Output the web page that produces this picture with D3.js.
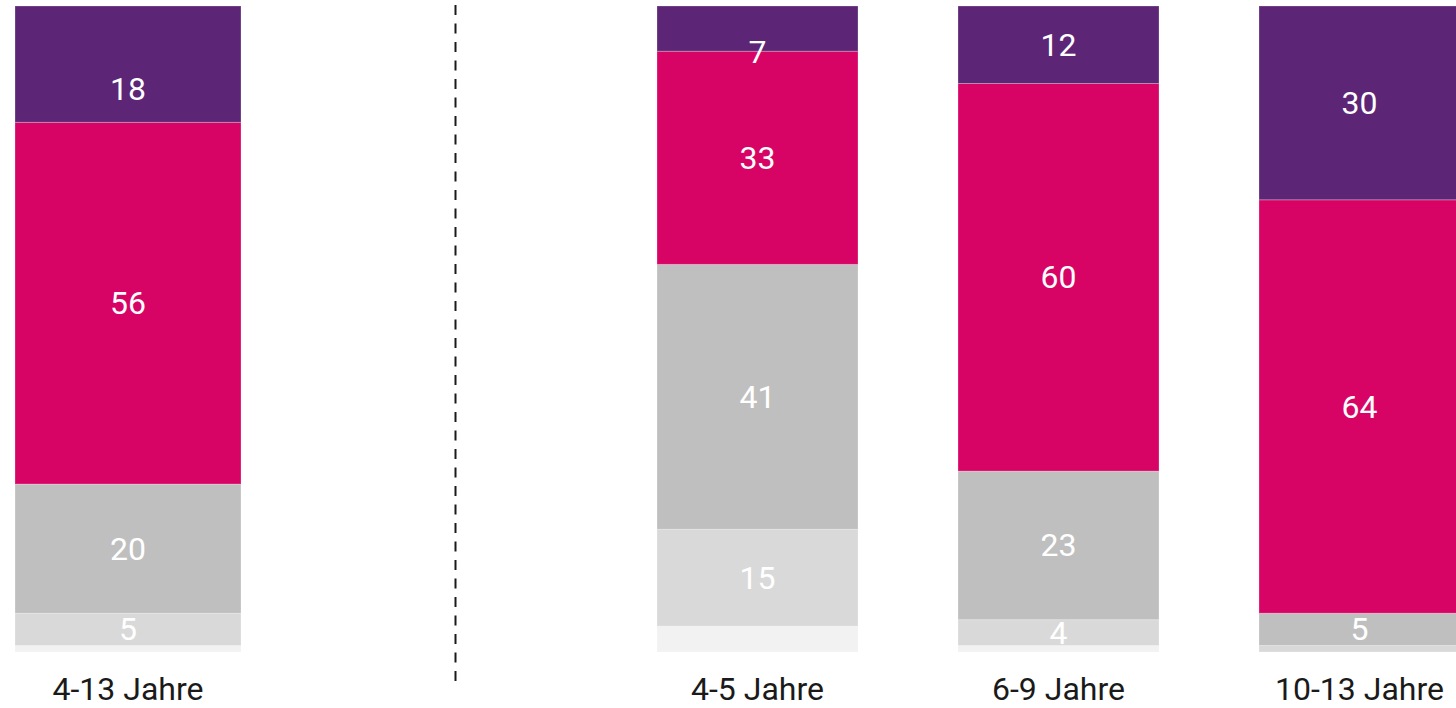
<!DOCTYPE html>
<html>
<head>
<meta charset="utf-8">
<script src="https://cdn.jsdelivr.net/npm/d3@7/dist/d3.min.js"></script>
<style>
  html, body { margin: 0; padding: 0; background: #ffffff; overflow: hidden; }
  svg { display: block; font-family: Roboto, "Noto Sans", sans-serif; }
</style>
</head>
<body>
<svg id="chart" width="1456" height="708"></svg>
<script>
// ---- data (bottom to top) ----
const categories = ["4-13 Jahre", "4-5 Jahre", "6-9 Jahre", "10-13 Jahre"];
const leftCategories = ["4-13 Jahre"];
const rightCategories = ["4-5 Jahre", "6-9 Jahre", "10-13 Jahre"];
const seriesNames = ["s1", "s2", "s3", "s4", "s5"];
const s1 = [1, 4, 1, 0];      // lightest grey (unlabelled)
const s2 = [5, 15, 4, 1];     // light grey
const s3 = [20, 41, 23, 5];   // grey
const s4 = [56, 33, 60, 64];  // magenta
const s5 = [18, 7, 12, 30];   // purple
const seriesValues = [s1, s2, s3, s4, s5];

// ---- styling ----
const colors = ["#f2f2f2", "#d9d9d9", "#bfbfbf", "#d70466", "#5c2576"];
const labelled = [false, true, true, true, true];
// layout nudge for the labels of the top (purple) segment, in px
const topLabelNudge = { "4-13 Jahre": 25, "4-5 Jahre": 23 };

// ---- build table ----
const table = categories.map((c, i) => {
  const row = { category: c };
  seriesNames.forEach((s, k) => row[s] = seriesValues[k][i]);
  return row;
});
const stacked = d3.stack().keys(seriesNames)(table);

const svg = d3.select("#chart");

const y = d3.scaleLinear().domain([0, 100]).range([652, 6]);

const xLeft = d3.scaleBand().domain(leftCategories).range([15, 241]).paddingInner(0).paddingOuter(0);
const xRight = d3.scaleBand().domain(rightCategories).range([657, 1460]).paddingInner(100 / 301).paddingOuter(0);
const xOf = c => leftCategories.includes(c) ? xLeft : xRight;

// bars
stacked.forEach((layer, k) => {
  const g = svg.append("g");
  g.selectAll("rect")
    .data(layer)
    .join("rect")
    .attr("x", d => xOf(d.data.category)(d.data.category))
    .attr("width", d => xOf(d.data.category).bandwidth())
    .attr("y", d => y(d[1]))
    .attr("height", d => Math.max(0, y(d[0]) - y(d[1])))
    .attr("fill", colors[k])
    .attr("stroke", "rgba(255,255,255,0.25)")
    .attr("stroke-width", 1);
});

// value labels
stacked.forEach((layer, k) => {
  if (!labelled[k]) return;
  const isTop = k === stacked.length - 1;
  svg.append("g").selectAll("text")
    .data(layer.filter(d => (d[1] - d[0]) >= 3))
    .join("text")
    .attr("x", d => xOf(d.data.category)(d.data.category) + xOf(d.data.category).bandwidth() / 2)
    .attr("y", d => {
      const mid = (y(d[1]) + y(d[0])) / 2;
      return mid + (isTop ? (topLabelNudge[d.data.category] || 0) : 0);
    })
    .attr("text-anchor", "middle")
    .attr("dominant-baseline", "central")
    .attr("fill", "#ffffff")
    .attr("font-size", 32)
    .text(d => d[1] - d[0]);
});

// category labels
svg.append("g").selectAll("text")
  .data(categories)
  .join("text")
  .attr("x", c => xOf(c)(c) + xOf(c).bandwidth() / 2)
  .attr("y", 700)
  .attr("text-anchor", "middle")
  .attr("fill", "#1a1a1a")
  .attr("font-size", 32)
  .text(c => c);

// dashed separator
svg.append("line")
  .attr("x1", 455.5).attr("x2", 455.5)
  .attr("y1", 5).attr("y2", 688)
  .attr("stroke", "#1a1a1a")
  .attr("stroke-width", 2)
  .attr("stroke-dasharray", "10,8.5");
</script>
</body>
</html>
